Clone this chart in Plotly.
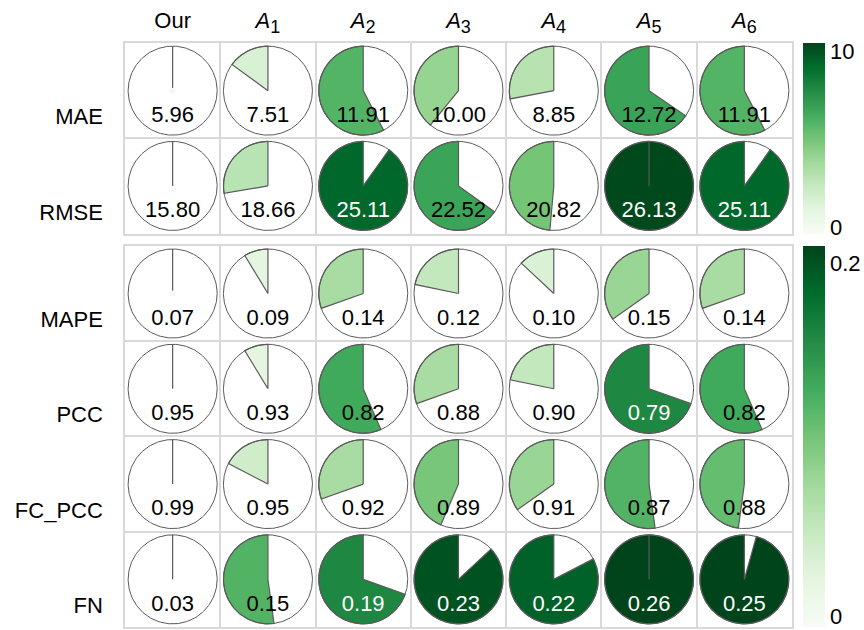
import numpy as np
import plotly.graph_objects as go
from plotly.colors import sample_colorscale

# ---- data -------------------------------------------------------------
methods = ["Our", "A1", "A2", "A3", "A4", "A5", "A6"]
method_labels = ["Our"] + [
    f"<i>A</i><sub><span style='font-size:18px'>{k}</span></sub>" for k in range(1, 7)
]

error_metrics = ["MAE", "RMSE"]
ratio_metrics = ["MAPE", "PCC", "FC_PCC", "FN"]

mae = [5.96, 7.51, 11.91, 10.00, 8.85, 12.72, 11.91]
rmse = [15.80, 18.66, 25.11, 22.52, 20.82, 26.13, 25.11]
mape = [0.07, 0.09, 0.14, 0.12, 0.10, 0.15, 0.14]
pcc = [0.95, 0.93, 0.82, 0.88, 0.90, 0.79, 0.82]
fc_pcc = [0.99, 0.95, 0.92, 0.89, 0.91, 0.87, 0.88]
fn = [0.03, 0.15, 0.19, 0.23, 0.22, 0.26, 0.25]

error_ticks = [0, 10]
ratio_ticks = [0, 0.2]
error_color_range = [-0.38, 10.5]
ratio_color_range = [-0.006, 0.21]

# ---- styling ------------------------------------------------------------
FONT = "Liberation Sans, Arial, Helvetica, sans-serif"
GREENS = ["#f7fcf5", "#e5f5e0", "#c7e9c0", "#a1d99b", "#74c476",
          "#41ab5d", "#238b45", "#006d2c", "#00441b"]
GRID = "#d9d9d9"
EDGE = "#5a5a5a"
RADIUS = 0.467
TEXT_DROP = 0.27

W, H = 864, 630
ML, MR, MT, MB = 125, 72, 43, 3
plot_w = W - ML - MR
plot_h = H - MT - MB
cell = plot_w / len(methods)
top_frac = 2 * cell / plot_h
bot_frac = 4 * cell / plot_h

panels = [
    dict(rows=error_metrics, values=[mae, rmse], crange=error_color_range,
         ticks=error_ticks, xa="x", ya="y", domain=[1 - top_frac, 1]),
    dict(rows=ratio_metrics, values=[mape, pcc, fc_pcc, fn], crange=ratio_color_range,
         ticks=ratio_ticks, xa="x2", ya="y2", domain=[0, bot_frac]),
]

fig = go.Figure()

for p in panels:
    vals = np.array(p["values"], dtype=float)
    diffs = np.abs(vals - vals[:, :1])
    share = diffs / diffs.max()
    cmin, cmax = p["crange"]
    shade = np.clip((diffs - cmin) / (cmax - cmin), 0, 1)

    # wedges: start at 12 o'clock, sweep counter-clockwise by the share
    for r in range(vals.shape[0]):
        for c in range(vals.shape[1]):
            sweep = 2 * np.pi * share[r, c]
            th = np.linspace(0, sweep, max(3, int(240 * share[r, c]) + 3))
            xs = np.concatenate([[c], c - RADIUS * np.sin(th), [c]])
            ys = np.concatenate([[r], r - RADIUS * np.cos(th), [r]])
            col = sample_colorscale(GREENS, [shade[r, c]], colortype="rgb")[0]
            fig.add_trace(go.Scatter(
                x=xs, y=ys, mode="lines", fill="toself", fillcolor=col,
                line=dict(color=EDGE, width=1.2), hoverinfo="skip",
                showlegend=False, xaxis=p["xa"], yaxis=p["ya"]))

    # circle outlines
    th = np.linspace(0, 2 * np.pi, 181)
    cx, cy = [], []
    for r in range(vals.shape[0]):
        for c in range(vals.shape[1]):
            cx += list(c + RADIUS * np.cos(th)) + [None]
            cy += list(r + RADIUS * np.sin(th)) + [None]
    fig.add_trace(go.Scatter(x=cx, y=cy, mode="lines",
                             line=dict(color=EDGE, width=1), hoverinfo="skip",
                             showlegend=False, xaxis=p["xa"], yaxis=p["ya"]))

    # value labels
    tx, ty, tt, tc = [], [], [], []
    for r in range(vals.shape[0]):
        for c in range(vals.shape[1]):
            tx.append(c)
            ty.append(r + TEXT_DROP)
            tt.append(f"{vals[r, c]:.2f}")
            tc.append("white" if shade[r, c] > 0.7 else "black")
    fig.add_trace(go.Scatter(x=tx, y=ty, mode="text", text=tt,
                             textfont=dict(family=FONT, size=22, color=tc),
                             hoverinfo="skip", showlegend=False,
                             xaxis=p["xa"], yaxis=p["ya"]))

    # colour bar for this panel
    dom = p["domain"]
    fig.add_trace(go.Scatter(
        x=[0], y=[0], mode="markers", hoverinfo="skip", showlegend=False,
        xaxis=p["xa"], yaxis=p["ya"],
        marker=dict(size=0, color=[0], cmin=cmin, cmax=cmax,
                    colorscale=[[i / 8, g] for i, g in enumerate(GREENS)],
                    showscale=True,
                    colorbar=dict(x=(803 - ML) / plot_w, xanchor="left",
                                  y=(dom[0] + dom[1]) / 2, yanchor="middle",
                                  len=dom[1] - dom[0], lenmode="fraction",
                                  thickness=22, ypad=0, xpad=0,
                                  outlinewidth=0, ticks="",
                                  tickvals=p["ticks"],
                                  tickfont=dict(family=FONT, size=22, color="black")))))

axis_common = dict(range=[-0.5, len(methods) - 0.5], showgrid=False, zeroline=False,
                   showline=True, mirror=True, linecolor=GRID, linewidth=1.5,
                   ticks="", minor=dict(tick0=0.5, dtick=1, showgrid=True,
                                        gridcolor=GRID, gridwidth=1.5))


def row_axis(domain, anchor, names):
    return dict(domain=domain, anchor=anchor,
                range=[len(names) - 0.5, -0.5], showgrid=False,
                zeroline=False, showline=True, mirror=True, linecolor=GRID,
                linewidth=1.5, ticks="",
                tickvals=list(range(len(names))), ticktext=names,
                ticklabelstandoff=16, ticklabelshift=-26,
                minor=dict(tick0=0.5, dtick=1, showgrid=True, gridcolor=GRID,
                           gridwidth=1.5))


fig.update_layout(
    width=W, height=H, margin=dict(l=ML, r=MR, t=MT, b=MB),
    paper_bgcolor="white", plot_bgcolor="white",
    font=dict(family=FONT, size=22, color="black"),
    xaxis=dict(**axis_common, anchor="y", side="top",
               tickvals=list(range(len(methods))), ticktext=method_labels,
               tickfont=dict(size=22), ticklabelstandoff=4),
    xaxis2=dict(**axis_common, anchor="y2", showticklabels=False),
    yaxis=row_axis(panels[0]["domain"], "x", error_metrics),
    yaxis2=row_axis(panels[1]["domain"], "x2", ratio_metrics),
)

fig.write_html("out.html")
